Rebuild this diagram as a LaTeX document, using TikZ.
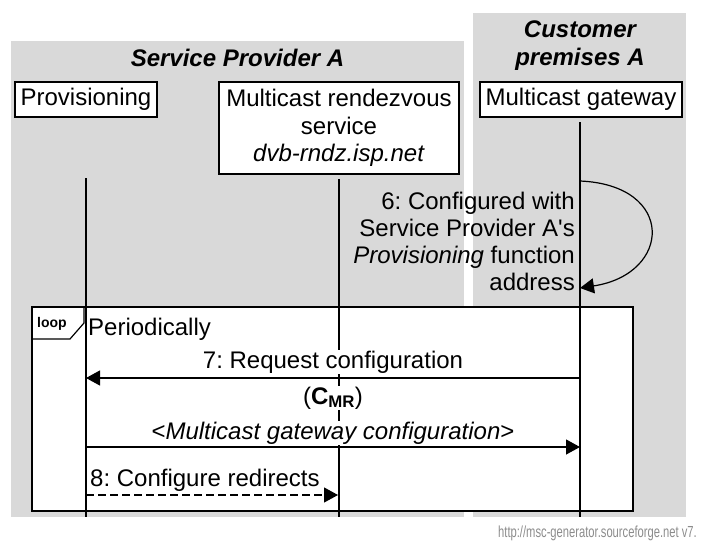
\documentclass[tikz,border=0pt]{standalone}
\usepackage{fontspec}
\usepackage{graphicx}
\setmainfont{Liberation Sans}
\usetikzlibrary{arrows.meta}
\frenchspacing
\definecolor{panelgray}{HTML}{D9D9D9}
\definecolor{footgray}{HTML}{8C8C8C}
\tikzset{
  panel/.style={fill=panelgray, draw=none},
  big/.style={font=\fontsize{24}{27.5}\selectfont},
  title/.style={big, font=\fontsize{24}{28}\selectfont\bfseries\itshape, align=center},
  ent/.style={draw, fill=white, line width=1.2pt, big, inner sep=0pt, align=center},
  life/.style={line width=1.2pt},
  msg/.style={line width=1.2pt, -{Triangle[length=14pt,width=15pt]}},
  lbl/.style={big, fill=white, inner sep=1pt},
  framebox/.style={draw, fill=white, line width=1.2pt},
}
\begin{document}
\begin{tikzpicture}[x=1pt,y=-1pt]
\useasboundingbox (0,0) rectangle (702,541);
% panels
\fill[panel] (11,41) rectangle (464,517);
\fill[panel] (473,13) rectangle (686,517);
\node[title] (sp) at (237.5,58) {Service Provider A};
\node[title] (cp) at (580,46) {Customer\\premises A};
% loop frame
\draw[framebox] (32,307) rectangle (633,511);
\draw[line width=1.2pt] (32,339) -- (70,339) -- (84,323) -- (84,307);
\node[font=\fontsize{14}{16}\selectfont\bfseries] (looptag) at (52,324) {loop};
\node[big, anchor=west, inner sep=0pt] (per) at (88,329) {Periodically};
% lifeline coordinates
\coordinate (p0) at (86,178);
\coordinate (p1) at (86,517);
\coordinate (r0) at (339,179);
\coordinate (r1) at (339,517);
\coordinate (g0) at (580,122);
\coordinate (g1) at (580,517);
\draw[life] (p0) -- (p1);
\draw[life] (r0) -- (r1);
\draw[life] (g0) -- (g1);
% entities
\node[ent, minimum width=142pt, minimum height=35pt] (prov) at (86,99.5) {Provisioning};
\node[ent, minimum width=240pt, minimum height=92pt] (rend) at (339,128) {Multicast rendezvous\\service\\\textit{dvb-rndz.isp.net}};
\node[ent, minimum width=202pt, minimum height=35pt] (gw) at (581,99.5) {Multicast gateway};
% self message 6
\coordinate (s6a) at (580,181);
\coordinate (s6b) at (580,288);
\draw[msg] (s6a) .. controls +(96,4) and +(92,-14) .. (s6b);
\node[big, align=right, anchor=east, inner sep=0pt, font=\fontsize{24}{27}\selectfont] (lab6) at (575,241)
  {6: Configured with\\Service Provider A\textquotesingle s\\\textit{Provisioning} function\\address};
% message 7
\node[lbl] (lab7) at (333,362) {7: Request configuration};
\node[lbl] (labc) at (333,398) {({\bfseries C}\textsubscript{\bfseries MR})};
\coordinate (m7a) at (580,378);
\coordinate (m7b) at (86,378);
\draw[msg] (m7a) -- (m7b);
% reply
\node[lbl] (labr) at (333,433) {<\textit{Multicast gateway configuration}>};
\coordinate (mra) at (86,447);
\coordinate (mrb) at (580,447);
\draw[msg] (mra) -- (mrb);
% message 8
\node[lbl, anchor=west] (lab8) at (89,480) {8: Configure redirects};
\coordinate (m8a) at (86,495);
\coordinate (m8b) at (338,495);
\draw[msg, dash pattern=on 8pt off 4pt] (m8a) -- (m8b);
% footer
\node[anchor=base west, inner sep=0pt, text=footgray, font=\fontsize{16}{18}\selectfont] (foot) at (498,537)
  {\scalebox{0.7}[1]{http://msc-generator.sourceforge.net v7.}};
\end{tikzpicture}
\end{document}
